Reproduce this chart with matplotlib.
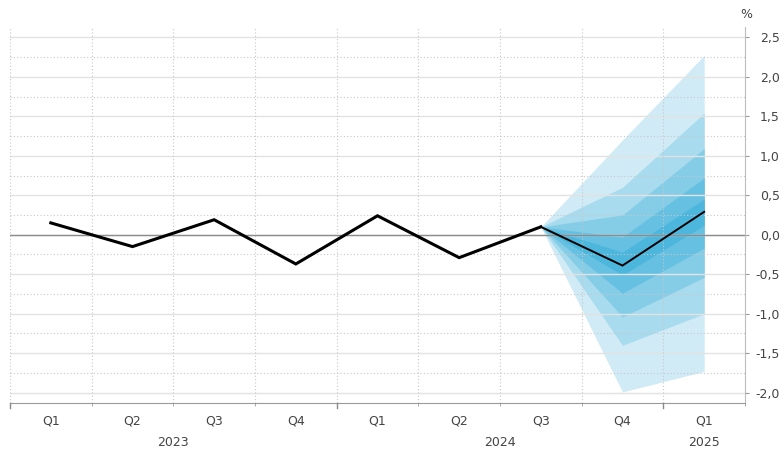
import numpy as np
import matplotlib.pyplot as plt
from matplotlib.ticker import FixedLocator, FuncFormatter

plt.rcParams['font.family'] = ['Liberation Sans Narrow', 'DejaVu Sans']

quarters = ['Q1', 'Q2', 'Q3', 'Q4', 'Q1', 'Q2', 'Q3', 'Q4', 'Q1']
years = ['2023', '2024', '2025']
year_quarters = [4, 4, 1]

# historical values Q1 2023 .. Q3 2024, forecast Q3 2024 .. Q1 2025
actual = [0.15, -0.15, 0.19, -0.37, 0.24, -0.29, 0.10]
forecast = [0.10, -0.39, 0.29]

# fan bands (outer -> inner) at Q3 2024, Q4 2024, Q1 2025
band_upper = [
    [0.10, 1.20, 2.27],
    [0.10, 0.60, 1.54],
    [0.10, 0.25, 1.09],
    [0.10, -0.03, 0.72],
    [0.10, -0.22, 0.45],
]
band_lower = [
    [0.10, -1.99, -1.73],
    [0.10, -1.40, -1.00],
    [0.10, -1.04, -0.54],
    [0.10, -0.74, -0.17],
    [0.10, -0.51, 0.12],
]
band_colors = ['#d0ebf5', '#a8dbee', '#85cde7', '#66c0e1', '#4cb6dc']

fig = plt.figure(figsize=(7.84, 4.49), dpi=100)
ax = fig.add_axes([10 / 784, 1 - 403 / 449, 735 / 784, 376 / 449])

xc = np.arange(len(quarters)) + 0.5
n_act = len(actual)
xf = xc[n_act - 1:]

for up, lo, col in zip(band_upper, band_lower, band_colors):
    ax.fill_between(xf, lo, up, color=col, lw=0, zorder=1)

ax.plot(xc[:n_act], actual, color='black', lw=2.2, zorder=4, solid_joinstyle='miter')
ax.plot(xf, forecast, color='black', lw=1.4, zorder=4, solid_joinstyle='miter')

ax.set_xlim(0, len(quarters))
ax.set_ylim(-2.13, 2.63)

# grid
ax.set_yticks(np.arange(-2.0, 2.51, 0.5))
ax.yaxis.set_minor_locator(FixedLocator(np.arange(-1.75, 2.4, 0.5)))
ax.grid(True, which='major', axis='y', color='#e2e2e2', lw=1.0, zorder=2)
ax.grid(True, which='minor', axis='y', color='#c8c8c8', lw=0.8, ls=(0, (1, 2)), zorder=2)
for b in range(len(quarters)):
    ax.axvline(b, color='#c8c8c8', lw=0.8, ls=(0, (1, 2)), zorder=2)
ax.axhline(0, color='#8c8c8c', lw=1.0, zorder=3)

# spines
for s in ['left', 'top']:
    ax.spines[s].set_visible(False)
ax.spines['right'].set_color('#bdbdbd')
ax.spines['bottom'].set_color('#9a9a9a')

# y axis on the right
ax.yaxis.tick_right()
ax.yaxis.set_major_formatter(FuncFormatter(lambda v, p: ('%.1f' % v).replace('.', ',')))
ax.tick_params(axis='y', which='major', length=3, color='#9a9a9a', pad=22,
               labelsize=9, labelcolor='#444444')
ax.tick_params(axis='y', which='minor', length=0)
for lab in ax.get_yticklabels():
    lab.set_horizontalalignment('right')

# x axis: quarter labels at centres, ticks at boundaries
ax.set_xticks(xc)
ax.set_xticklabels(quarters)
ax.tick_params(axis='x', which='major', length=0, pad=8, labelsize=9, labelcolor='#444444')
ax.xaxis.set_minor_locator(FixedLocator(np.arange(len(quarters) + 1)))
ax.tick_params(axis='x', which='minor', length=2.5, color='#9a9a9a')

start = 0
for yr, nq in zip(years, year_quarters):
    ax.plot([start, start], [0, -0.012], transform=ax.get_xaxis_transform(),
            color='#8a8a8a', lw=1.0, clip_on=False, zorder=5)
    ax.text(start + nq / 2, -0.105, yr, transform=ax.get_xaxis_transform(),
            ha='center', va='center', fontsize=9, color='#444444')
    start += nq

fig.text(746 / 784, 1 - 14 / 449, '%', ha='center', va='center', fontsize=9, color='#444444')

fig.savefig('out.png', dpi=100)
